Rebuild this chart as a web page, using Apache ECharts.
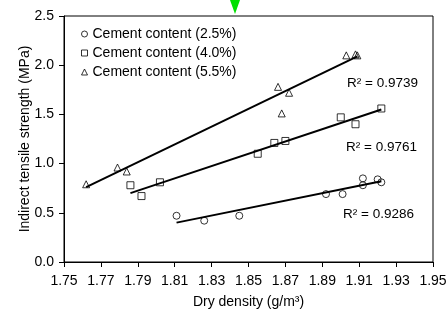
<!DOCTYPE html>
<html>
<head>
<meta charset="utf-8">
<script src="https://cdn.jsdelivr.net/npm/echarts@6/dist/echarts.min.js"></script>
<style>
  html, body { margin: 0; padding: 0; background: #fff; }
  #chart { width: 448px; height: 311px; }
</style>
</head>
<body>
<div id="chart"></div>
<script>
var seriesNames = ['Cement content (2.5%)', 'Cement content (4.0%)', 'Cement content (5.5%)'];

// measured points [dry density, strength]
var cement25 = [[1.811, 0.47], [1.826, 0.42], [1.845, 0.47], [1.892, 0.69], [1.901, 0.69],
                [1.912, 0.85], [1.912, 0.78], [1.920, 0.84], [1.922, 0.81]];
var cement40 = [[1.786, 0.78], [1.792, 0.67], [1.802, 0.81], [1.855, 1.10], [1.864, 1.21],
                [1.870, 1.23], [1.900, 1.47], [1.908, 1.40], [1.922, 1.56]];
var cement55 = [[1.762, 0.79], [1.779, 0.96], [1.784, 0.92], [1.866, 1.78], [1.872, 1.72],
                [1.868, 1.51], [1.903, 2.10], [1.908, 2.11], [1.909, 2.10]];

// trend line end points
var fit25 = [[1.811, 0.40], [1.922, 0.82]];
var fit40 = [[1.786, 0.70], [1.922, 1.55]];
var fit55 = [[1.762, 0.76], [1.909, 2.09]];

var r2Labels = ['0.9286', '0.9761', '0.9739'];

var font = 'Liberation Sans, Arial, sans-serif';

function pointSeries(name, data, symbol, size) {
    return {
        name: name,
        type: 'scatter',
        data: data,
        symbol: symbol,
        symbolSize: size,
        itemStyle: { color: 'transparent', borderColor: '#000', borderWidth: 1 },
        z: 3
    };
}

function fitSeries(data) {
    return {
        type: 'line',
        data: data,
        symbol: 'none',
        lineStyle: { color: '#000', width: 2 },
        silent: true,
        z: 2
    };
}

function r2Text(x, y, val) {
    return {
        type: 'text',
        x: x,
        y: y,
        style: {
            text: 'R² = ' + val,
            font: '13.5px ' + font,
            fill: '#000',
            verticalAlign: 'middle'
        }
    };
}

var chart = echarts.init(document.getElementById('chart'));
chart.setOption({
    animation: false,
    backgroundColor: '#fff',
    grid: {
        left: 64, right: 15, top: 16, bottom: 49,
        outerBoundsMode: 'none',
        show: true, borderColor: '#000', borderWidth: 1
    },
    legend: {
        orient: 'vertical',
        left: 76,
        top: 22,
        itemGap: 5,
        itemWidth: 6,
        itemHeight: 6,
        data: seriesNames,
        itemStyle: { borderWidth: 1, borderColor: '#000', color: 'transparent' },
        textStyle: { fontFamily: font, fontSize: 14, color: '#000' }
    },
    xAxis: {
        type: 'value',
        min: 1.75,
        max: 1.95,
        interval: 0.02,
        name: 'Dry density (g/m³)',
        nameLocation: 'middle',
        nameGap: 33,
        nameMoveOverlap: false,
        nameTextStyle: { fontFamily: font, fontSize: 14, color: '#000' },
        axisLine: { show: true, lineStyle: { color: '#000', width: 1 } },
        axisTick: { show: true, inside: false, length: 5, lineStyle: { color: '#000' } },
        axisLabel: {
            fontFamily: font, fontSize: 14, color: '#000', margin: 12,
            formatter: function (v) { return v.toFixed(2); }
        },
        splitLine: { show: false }
    },
    yAxis: {
        type: 'value',
        min: 0,
        max: 2.5,
        interval: 0.5,
        name: 'Indirect tensile strength (MPa)',
        nameLocation: 'middle',
        nameGap: 32,
        nameMoveOverlap: false,
        nameTextStyle: { fontFamily: font, fontSize: 14, color: '#000' },
        axisLine: { show: true, lineStyle: { color: '#000', width: 1 } },
        axisTick: { show: true, inside: false, length: 5, lineStyle: { color: '#000' } },
        axisLabel: {
            fontFamily: font, fontSize: 14, color: '#000', margin: 10,
            formatter: function (v) { return v.toFixed(1); }
        },
        splitLine: { show: false }
    },
    graphic: [
        r2Text(347, 83, r2Labels[2]),
        r2Text(346, 147, r2Labels[1]),
        r2Text(343, 214, r2Labels[0]),
        {
            type: 'polygon',
            shape: { points: [[230, 0], [240, 0], [235, 14]] },
            style: { fill: '#00e000' },
            z: 10
        }
    ],
    series: [
        pointSeries(seriesNames[0], cement25, 'circle', 7),
        pointSeries(seriesNames[1], cement40, 'rect', 7),
        pointSeries(seriesNames[2], cement55, 'triangle', 7),
        fitSeries(fit25),
        fitSeries(fit40),
        fitSeries(fit55)
    ]
});
</script>
</body>
</html>
